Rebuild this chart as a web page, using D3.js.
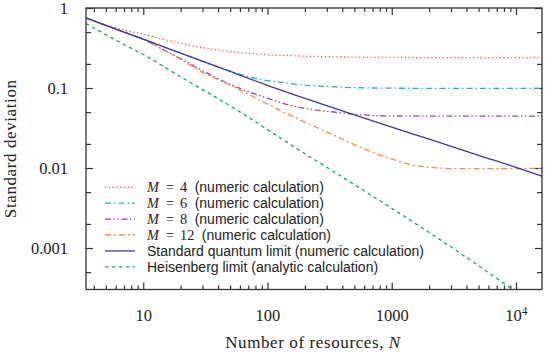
<!DOCTYPE html>
<html>
<head>
<meta charset="utf-8">
<script src="https://cdn.jsdelivr.net/npm/d3@7"></script>
<style>
  body { margin: 0; background: #fff; }
  .serif { font-family: "Liberation Serif", "DejaVu Serif", serif; fill: #222; }
  .sans { font-family: "Liberation Sans", "DejaVu Sans", sans-serif; fill: #222; }
</style>
</head>
<body>
<div id="chart"></div>
<script>

// declare constants
const FRAME_WIDTH = 545;
const FRAME_HEIGHT = 354;
const MARGINS = {left: 86, right: 3, top: 8, bottom: 64.5};

const VIS_WIDTH = FRAME_WIDTH - MARGINS.left - MARGINS.right;
const VIS_HEIGHT = FRAME_HEIGHT - MARGINS.top - MARGINS.bottom;

// data
const N_M4 = [3.46, 5, 7, 10, 15, 20, 30, 50, 100, 200, 500, 1000, 3000, 16200];
const SD_M4 = [0.75, 0.61, 0.53, 0.47, 0.40, 0.36, 0.32, 0.285, 0.262, 0.25, 0.243, 0.241, 0.24, 0.24];

const N_M6 = [3.46, 4, 5, 7, 10, 20, 50, 70, 92, 130, 171, 318, 500, 966, 3000, 16200];
const SD_M6 = [0.75, 0.69, 0.607, 0.5, 0.407, 0.273, 0.162, 0.139, 0.126, 0.118, 0.111, 0.104, 0.101, 0.0995, 0.099, 0.099];

const N_M8 = [3.46, 5, 7, 10, 14, 20, 30, 50, 92, 170, 320, 1000, 3000, 16200];
const SD_M8 = [0.75, 0.607, 0.5, 0.405, 0.31, 0.232, 0.165, 0.111, 0.078, 0.0584, 0.0506, 0.0447, 0.0445, 0.0445];

const N_M12 = [3.46, 5, 7, 10, 14, 20, 30, 50, 92, 171, 318, 588, 966, 1490, 2020, 3750, 16200];
const SD_M12 = [0.75, 0.607, 0.5, 0.405, 0.31, 0.228, 0.157, 0.109, 0.0674, 0.0418, 0.0271, 0.0176, 0.0132, 0.0109, 0.0102, 0.0098, 0.0099];

const N_SQL = [3.46, 4, 5, 7, 10, 20, 50, 100, 200, 500, 1000, 2000, 5000, 10000, 16200];
const SD_SQL = [0.75, 0.69, 0.607, 0.5, 0.407, 0.273, 0.161, 0.108, 0.0741, 0.046, 0.0324, 0.0229, 0.0144, 0.0102, 0.0079];

const N_HL = [3.46, 5, 7, 10, 20, 32, 53, 100, 171, 300, 908, 2360, 5000, 9420];
const SD_HL = [0.64, 0.465, 0.35, 0.262, 0.138, 0.09, 0.0567, 0.0302, 0.0176, 0.0102, 0.00345, 0.00132, 0.0006, 0.000303];

const X_TICKS = [10, 100, 1000, 10000];
const Y_TICKS = [1, 0.1, 0.01, 0.001];
const Y_TICK_LABELS = ["1", "0.1", "0.01", "0.001"];

const LEGEND_MATH = ["4", "6", "8", "12", null, null];
const LEGEND_TEXT = ["(numeric calculation)", "(numeric calculation)", "(numeric calculation)",
  "(numeric calculation)", "Standard quantum limit (numeric calculation)", "Heisenberg limit (analytic calculation)"];

// styles for each series, same order as legend
const SERIES = [
  {n: N_M4, sd: SD_M4, color: "#ff4848", dash: "1.2,2.6"},
  {n: N_M6, sd: SD_M6, color: "#22b5bb", dash: "6,3,1.5,3"},
  {n: N_M8, sd: SD_M8, color: "#9c46b0", dash: "6,2.5,1.5,2.5,1.5,2.5"},
  {n: N_M12, sd: SD_M12, color: "#fb8a48", dash: "6,3,2,3"},
  {n: N_SQL, sd: SD_SQL, color: "#3a3a9e", dash: null},
  {n: N_HL, sd: SD_HL, color: "#10ad55", dash: "3.5,3.5"}
];

const FRAME = d3.select("#chart")
                  .append("svg")
                    .attr("height", FRAME_HEIGHT)
                    .attr("width", FRAME_WIDTH);

const X_SCALE = d3.scaleLog()
                    .domain([3.46, 16200])
                    .range([0, VIS_WIDTH]);

const Y_SCALE = d3.scaleLog()
                    .domain([3.03e-4, 1])
                    .range([VIS_HEIGHT, 0]);

const PLOT = FRAME.append("g")
              .attr("transform", "translate(" + MARGINS.left + "," + MARGINS.top + ")");

PLOT.append("clipPath")
      .attr("id", "clip")
    .append("rect")
      .attr("width", VIS_WIDTH)
      .attr("height", VIS_HEIGHT);

// minor tick values
let xMinor = [];
[1, 10, 100, 1000].forEach((d) => {
  for (let k = 2; k <= 9; k++) {
    const v = d * k;
    if (v > 3.46 && v < 16200 && v !== 10 && v !== 100 && v !== 1000) xMinor.push(v);
  }
});
let yMinor = [];
[1e-4, 1e-3, 1e-2, 1e-1].forEach((d) => {
  [2, 5].forEach((k) => {
    const v = d * k;
    if (v > 3.03e-4 && v < 1) yMinor.push(v);
  });
});

function styleAxis(g) {
  g.select(".domain").remove();
  g.selectAll("line").attr("stroke", "#333").attr("stroke-width", 1.2);
}

// bottom axis
PLOT.append("g")
      .attr("transform", "translate(0," + VIS_HEIGHT + ")")
      .call(d3.axisBottom(X_SCALE).tickValues(X_TICKS).tickSize(-7).tickPadding(20)
              .tickFormat((d) => d === 10000 ? "" : d3.format("d")(d)))
      .call(styleAxis)
      .call((g) => {
        g.selectAll("text").attr("class", "serif").attr("font-size", 16.5).attr("fill", "#222")
          .attr("font-family", null);
        g.selectAll(".tick").filter((d) => d === 10000).select("text")
          .each(function() {
            const t = d3.select(this);
            t.append("tspan").text("10");
            t.append("tspan").attr("font-size", 11.5).attr("dy", "-0.55em").text("4");
          });
      });
PLOT.append("g")
      .attr("transform", "translate(0," + VIS_HEIGHT + ")")
      .call(d3.axisBottom(X_SCALE).tickValues(xMinor).tickSize(-4).tickFormat(""))
      .call(styleAxis);

// top axis
PLOT.append("g")
      .call(d3.axisTop(X_SCALE).tickValues(X_TICKS).tickSize(-7).tickFormat(""))
      .call(styleAxis);
PLOT.append("g")
      .call(d3.axisTop(X_SCALE).tickValues(xMinor).tickSize(-4).tickFormat(""))
      .call(styleAxis);

// left axis
PLOT.append("g")
      .call(d3.axisLeft(Y_SCALE).tickValues(Y_TICKS).tickSize(-7).tickPadding(18)
              .tickFormat((d, i) => Y_TICK_LABELS[i]))
      .call(styleAxis)
      .call((g) => g.selectAll("text").attr("class", "serif").attr("font-size", 16.5)
                      .attr("font-family", null).attr("fill", "#222"));
PLOT.append("g")
      .call(d3.axisLeft(Y_SCALE).tickValues(yMinor).tickSize(-5).tickFormat(""))
      .call(styleAxis);

// right axis
PLOT.append("g")
      .attr("transform", "translate(" + VIS_WIDTH + ",0)")
      .call(d3.axisRight(Y_SCALE).tickValues(Y_TICKS).tickSize(-7).tickFormat(""))
      .call(styleAxis);
PLOT.append("g")
      .attr("transform", "translate(" + VIS_WIDTH + ",0)")
      .call(d3.axisRight(Y_SCALE).tickValues(yMinor).tickSize(-5).tickFormat(""))
      .call(styleAxis);

// the curves
const LINE = d3.line()
                .x((d) => X_SCALE(d[0]))
                .y((d) => Y_SCALE(d[1]))
                .curve(d3.curveMonotoneX);

SERIES.forEach((s) => {
  const pts = s.n.map((v, i) => [v, s.sd[i]]);
  PLOT.append("path")
        .datum(pts)
        .attr("clip-path", "url(#clip)")
        .attr("fill", "none")
        .attr("stroke", s.color)
        .attr("stroke-width", 1.3)
        .attr("stroke-dasharray", s.dash)
        .attr("d", LINE);
});

// frame
PLOT.append("rect")
      .attr("width", VIS_WIDTH)
      .attr("height", VIS_HEIGHT)
      .attr("fill", "none")
      .attr("stroke", "#333")
      .attr("stroke-width", 1.3);

// legend
const LEGEND = FRAME.append("g").attr("transform", "translate(105,187.3)");

SERIES.forEach((s, i) => {
  const row = LEGEND.append("g").attr("transform", "translate(0," + (i * 15.9) + ")");
  row.append("line")
        .attr("x1", 0).attr("x2", 30)
        .attr("stroke", s.color)
        .attr("stroke-width", 1.3)
        .attr("stroke-dasharray", s.dash);

  // pieces of the label, each one its own text, placed one after the other
  let pieces = [];
  if (LEGEND_MATH[i] !== null) {
    pieces.push({t: "M", cls: "serif", size: 14.3, italic: true, gap: 7});
    pieces.push({t: "=", cls: "serif", size: 14.3, italic: false, gap: 6});
    pieces.push({t: LEGEND_MATH[i], cls: "serif", size: 14.3, italic: false, gap: 7.5});
  }
  pieces.push({t: LEGEND_TEXT[i], cls: "sans", size: 14, italic: false, gap: 0});

  let x = 42;
  pieces.forEach((p) => {
    const el = row.append("text")
          .attr("class", p.cls)
          .attr("x", x)
          .attr("y", 4.8)
          .attr("font-size", p.size)
          .attr("font-style", p.italic ? "italic" : null)
          .text(p.t);
    x += el.node().getComputedTextLength() + p.gap;
  });
});

// axis titles
FRAME.append("text")
      .attr("class", "serif")
      .attr("font-size", 17)
      .attr("letter-spacing", 0.6)
      .attr("text-anchor", "middle")
      .attr("transform", "translate(16," + (MARGINS.top + VIS_HEIGHT / 2) + ") rotate(-90)")
      .text("Standard deviation");

const XT = FRAME.append("text")
      .attr("class", "serif")
      .attr("font-size", 17)
      .attr("letter-spacing", 0.6)
      .attr("text-anchor", "middle")
      .attr("x", 313)
      .attr("y", 348);
XT.append("tspan").text("Number of resources, ");
XT.append("tspan").attr("font-style", "italic").text("N");

</script>
</body>
</html>
